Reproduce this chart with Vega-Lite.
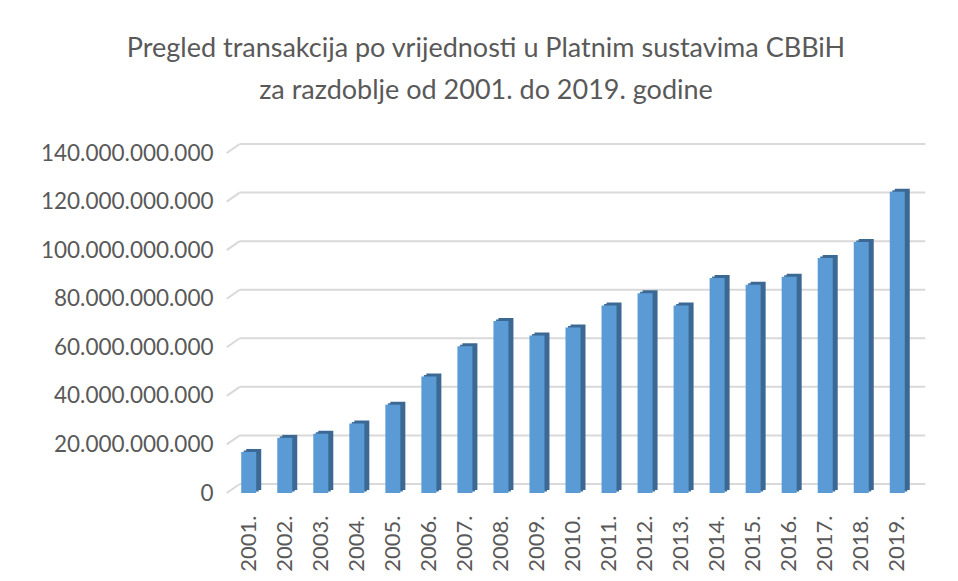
{
  "$schema": "https://vega.github.io/schema/vega-lite/v6.json",
  "autosize": {"type": "none"},
  "width": 692,
  "height": 340,
  "padding": {"left": 227, "top": 153, "right": 39, "bottom": 88},
  "background": "white",
  "title": {
    "text": ["Pregled transakcija po vrijednosti u Platnim sustavima CBBiH", "za razdoblje od 2001. do 2019. godine"],
    "font": "Lato",
    "fontSize": 27,
    "fontWeight": "normal",
    "color": "#595959",
    "anchor": "middle",
    "frame": "group",
    "dx": -87,
    "lineHeight": 42,
    "offset": 37
  },
  "config": {
    "view": {"stroke": null},
    "font": "Lato"
  },
  "data": {
    "values": [
      {"godina": "2001.", "v": 16900000000},
      {"godina": "2002.", "v": 22700000000},
      {"godina": "2003.", "v": 24400000000},
      {"godina": "2004.", "v": 28600000000},
      {"godina": "2005.", "v": 36300000000},
      {"godina": "2006.", "v": 48000000000},
      {"godina": "2007.", "v": 60400000000},
      {"godina": "2008.", "v": 70800000000},
      {"godina": "2009.", "v": 64900000000},
      {"godina": "2010.", "v": 68100000000},
      {"godina": "2011.", "v": 77200000000},
      {"godina": "2012.", "v": 82300000000},
      {"godina": "2013.", "v": 77200000000},
      {"godina": "2014.", "v": 88500000000},
      {"godina": "2015.", "v": 85700000000},
      {"godina": "2016.", "v": 89000000000},
      {"godina": "2017.", "v": 96800000000},
      {"godina": "2018.", "v": 103400000000},
      {"godina": "2019.", "v": 124000000000}
    ]
  },
  "layer": [
    {
      "data": {"values": [{"t": 0}, {"t": 20000000000}, {"t": 40000000000}, {"t": 60000000000}, {"t": 80000000000}, {"t": 100000000000}, {"t": 120000000000}, {"t": 140000000000}]},
      "mark": {"type": "rule", "color": "#d9d9d9", "strokeWidth": 2, "yOffset": -9, "xOffset": 9, "x2Offset": 10},
      "encoding": {
        "x": {"datum": "2001.", "bandPosition": 0},
        "x2": {"datum": "2019.", "bandPosition": 1},
        "y": {"field": "t", "type": "quantitative"}
      }
    },
    {
      "data": {"values": [{"t": 0}, {"t": 20000000000}, {"t": 40000000000}, {"t": 60000000000}, {"t": 80000000000}, {"t": 100000000000}, {"t": 120000000000}, {"t": 140000000000}]},
      "mark": {"type": "rule", "color": "#d9d9d9", "strokeWidth": 2, "xOffset": -4, "x2Offset": 9, "y2Offset": -9},
      "encoding": {
        "x": {"datum": "2001.", "bandPosition": 0},
        "x2": {"datum": "2001.", "bandPosition": 0},
        "y": {"field": "t", "type": "quantitative"},
        "y2": {"field": "t"}
      }
    },
    {
      "mark": {"type": "bar", "width": 15, "color": "#41719c", "xOffset": 2.5, "yOffset": -1.5, "y2Offset": -1.5},
      "encoding": {
        "x": {"field": "godina", "type": "nominal"},
        "y": {"field": "v", "type": "quantitative"}
      }
    },
    {
      "mark": {"type": "bar", "width": 15, "color": "#3c6894", "xOffset": 5, "yOffset": -3, "y2Offset": -3},
      "encoding": {
        "x": {"field": "godina", "type": "nominal"},
        "y": {"field": "v", "type": "quantitative"}
      }
    },
    {
      "mark": {"type": "bar", "width": 15, "color": "#5b9bd5"},
      "encoding": {
        "x": {
          "field": "godina",
          "type": "nominal",
          "sort": null,
          "scale": {"paddingInner": 0, "paddingOuter": 0.103},
          "axis": {
            "title": null,
            "labelAngle": 270,
            "labelFont": "Lato",
            "labelFontSize": 22,
            "labelColor": "#595959",
            "labelPadding": 22,
            "ticks": false,
            "domain": false,
            "grid": false
          }
        },
        "y": {
          "field": "v",
          "type": "quantitative",
          "scale": {"domain": [0, 140000000000], "nice": false},
          "axis": {
            "title": null,
            "values": [0, 20000000000, 40000000000, 60000000000, 80000000000, 100000000000, 120000000000, 140000000000],
            "labelExpr": "replace(format(datum.value, ',d'), regexp(',', 'g'), '.')",
            "labelFont": "Lato",
            "labelFontSize": 22.5,
            "labelColor": "#595959",
            "labelPadding": 14,
            "ticks": false,
            "domain": false,
            "grid": false
          }
        }
      }
    }
  ]
}
